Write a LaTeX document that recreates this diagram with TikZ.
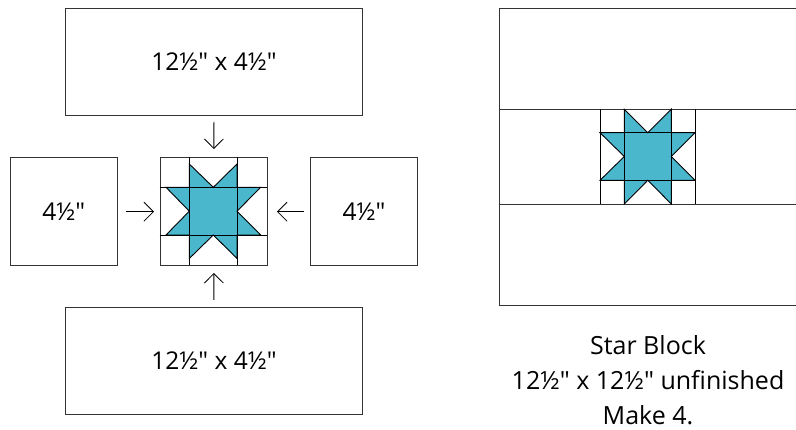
\documentclass[tikz,border=0pt]{standalone}
\usepackage{fontspec}
\setmainfont[Ligatures=TeXOff]{Open Sans}
\usetikzlibrary{arrows.meta}
\definecolor{teal1}{HTML}{4AB7CD}
\definecolor{edge}{HTML}{333333}
\tikzset{
  box/.style={draw=edge,line width=1pt,fill=white,inner sep=0pt,anchor=north west,font=\fontsize{24.5}{28}\selectfont},
  starfill/.style={fill=teal1,draw=black,line width=0.9pt,line join=miter},
  gridline/.style={draw=black,line width=0.9pt},
  arr/.style={draw=black,line width=0.8pt,-{Straight Barb[length=9.5pt,width=19pt,line width=0.8pt]}},
  captext/.style={align=center,font=\fontsize{25}{35}\selectfont}
}
\begin{document}
\begin{tikzpicture}[x=1pt,y=-1pt]
\useasboundingbox (0,0) rectangle (796,430);
% left: pieces
\node[box,minimum width=297pt,minimum height=107pt] (top) at (65,8) {12½" x 4½"};
\node[box,minimum width=297pt,minimum height=107pt] (bot) at (65,307) {12½" x 4½"};
\node[box,minimum width=107.5pt,minimum height=107.5pt] (lft) at (9.5,157.5) {4½"};
\node[box,minimum width=107pt,minimum height=107.5pt] (rgt) at (310,157.5) {4½"};
\node[box,minimum width=107.5pt,minimum height=107.5pt] (blk) at (159.5,157.5) {};
% star in left block
\draw[starfill] (189.3,187.3) -- (189.3,164) -- (213.3,187.3) -- (237,164) -- (237,187.3) -- (260.7,187.3)
  -- (237,211.2) -- (260.7,235) -- (237,235) -- (237,258.5) -- (213.3,235) -- (189.3,258.5) -- (189.3,235)
  -- (166,235) -- (189.3,211.2) -- (166,187.3) -- cycle;
\draw[gridline] (189.3,157.5) -- (189.3,265) (237,157.5) -- (237,265) (159.5,187.3) -- (267,187.3) (159.5,235) -- (267,235);
% arrows
\draw[arr,shorten <=6pt,shorten >=8.5pt] (top) -- (blk);
\draw[arr,shorten <=7pt,shorten >=7pt] (bot) -- (blk);
\draw[arr,shorten <=7.5pt,shorten >=5.5pt] (lft) -- (blk);
\draw[arr,shorten <=6pt,shorten >=9pt] (rgt) -- (blk);
% right: finished block
\node[box,minimum width=296.5pt,minimum height=297pt] (fin) at (499,8.5) {};
\draw[gridline,draw=edge] (fin.west |- 0,109.3) -- (fin.east |- 0,109.3) (fin.west |- 0,204) -- (fin.east |- 0,204);
\draw[starfill] (624.3,132.7) -- (624.3,109.3) -- (647.8,132.7) -- (671.3,109.3) -- (671.3,132.7) -- (695,132.7)
  -- (671.3,156.5) -- (695,180.3) -- (671.3,180.3) -- (671.3,204) -- (647.8,180.3) -- (624.3,204) -- (624.3,180.3)
  -- (600,180.3) -- (624.3,156.5) -- (600,132.7) -- cycle;
\draw[gridline] (600,109.3) -- (600,204) (624.3,109.3) -- (624.3,204) (671.3,109.3) -- (671.3,204) (695,109.3) -- (695,204)
  (600,132.7) -- (695,132.7) (600,180.3) -- (695,180.3);
\node[captext] (caption) at (648,380) {Star Block\\12½" x 12½" unfinished\\Make 4.};
\end{tikzpicture}
\end{document}
